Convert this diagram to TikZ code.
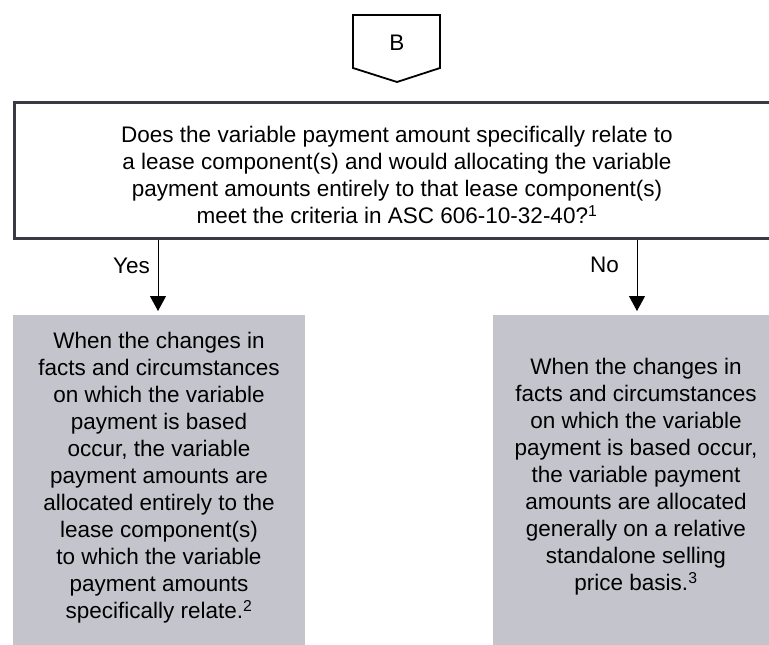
\documentclass[tikz,border=0pt]{standalone}
\usepackage{fontspec}
\setmainfont{Liberation Sans}
\usepackage{xcolor}
\usetikzlibrary{positioning,arrows.meta}

\definecolor{qline}{RGB}{58,58,68}
\definecolor{outgray}{RGB}{196,196,205}

\begin{document}
\begin{tikzpicture}[
  x=1pt, y=-1pt,
  font=\fontsize{22.5}{27}\selectfont,
  question/.style = {draw=qline, line width=2.6pt, anchor=north west,
                     minimum width=770pt, minimum height=136pt},
  outcome/.style  = {fill=outgray, anchor=north west, minimum width=292pt,
                     minimum height=340pt, inner sep=0pt},
  outtext/.style  = {align=center, inner sep=0pt},
  flow/.style     = {-{Triangle[length=15pt,width=16pt]}, line width=1pt, shorten >=4pt},
  lbl/.style      = {anchor=east, inner sep=0pt},
]
\path[use as bounding box, clip] (0,0) rectangle (769,645);

% ---------- entry ----------
\draw[line width=1.8pt, line join=miter]
      (353,15) -- (440,15) -- (440,68) -- (397,82) -- (353,68) -- cycle;
\node (entry) at (397,43) {B};

% ---------- question ----------
\node[question] (q) at (13,101) {};
\node[outtext] (qtext) at (397,175)
      {Does the variable payment amount specifically relate to\\
       a lease component(s) and would allocating the variable\\
       payment amounts entirely to that lease component(s)\\
       meet the criteria in ASC 606-10-32-40?\textsuperscript{1}};

% ---------- outcomes ----------
\node[outcome] (yesbox) at (13,315) {};
\node[outcome] (nobox)  at (493,315) {};

\node[outtext] (yestext) at (159,478)
      {When the changes in\\
       facts and circumstances\\
       on which the variable\\
       payment is based\\
       occur, the variable\\
       payment amounts are\\
       allocated entirely to the\\
       lease component(s)\\
       to which the variable\\
       payment amounts\\
       specifically relate.\textsuperscript{2}};

\node[outtext] (notext) at (636,477)
      {When the changes in\\
       facts and circumstances\\
       on which the variable\\
       payment is based occur,\\
       the variable payment\\
       amounts are allocated\\
       generally on a relative\\
       standalone selling\\
       price basis.\textsuperscript{3}};

% ---------- branches ----------
\coordinate (yesx) at (158,0);
\coordinate (nox)  at (637,0);

\draw[flow] (q.south -| yesx) -- (yesbox.north -| yesx);
\draw[flow] (q.south -| nox)  -- (nobox.north -| nox);

\node[lbl] (yes) at (150,266) {Yes};
\node[lbl] (no)  at (619,265) {No};

\end{tikzpicture}
\end{document}
